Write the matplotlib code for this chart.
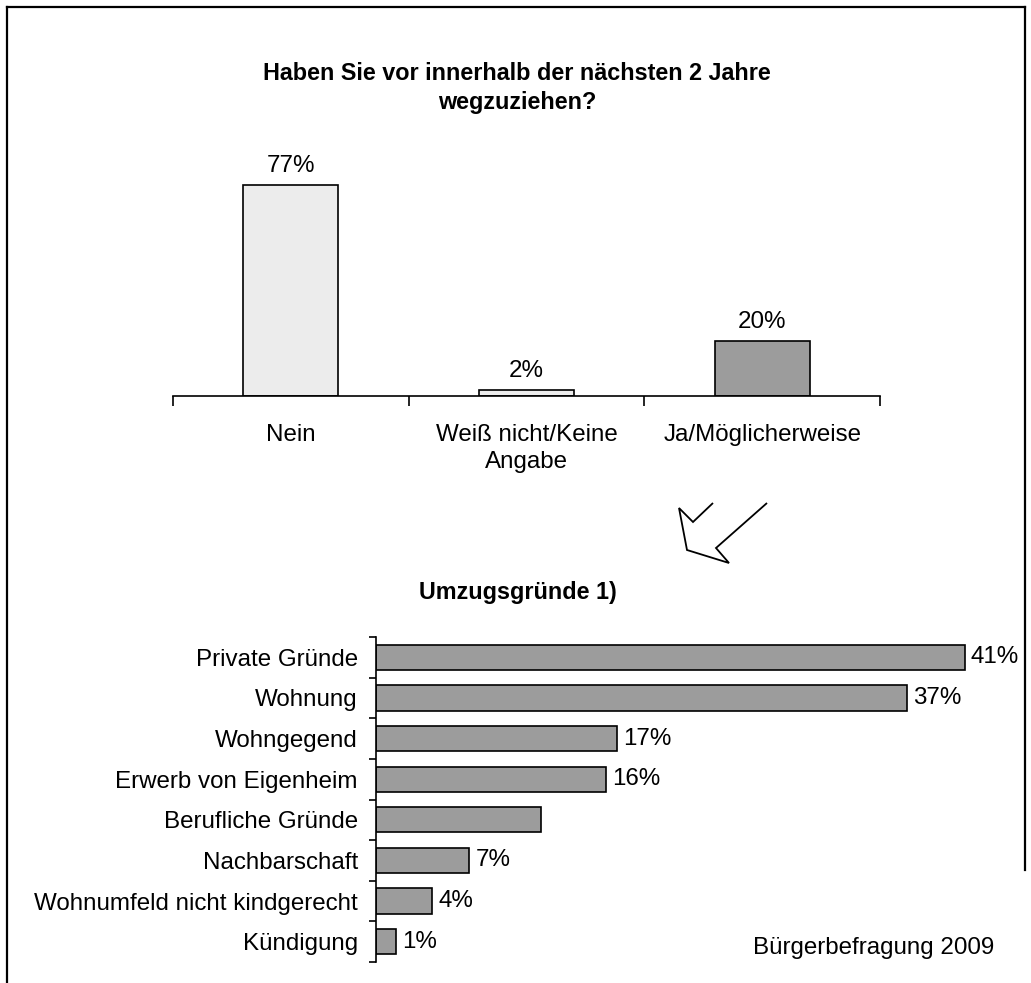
import numpy as np
import matplotlib
matplotlib.use("Agg")
import matplotlib.pyplot as plt
from matplotlib.patches import Polygon

plt.rcParams['font.family'] = ['Liberation Sans', 'DejaVu Sans']

# Frage: wegziehen in den naechsten 2 Jahren
antworten = ["Nein", "Weiß nicht/Keine\nAngabe", "Ja/Möglicherweise"]
anteile = [77, 2.2, 20]
anteil_labels = ["77%", "2%", "20%"]
farben_oben = ["#ececec", "#ececec", "#9c9c9c"]

# Umzugsgruende
gruende = ["Private Gründe", "Wohnung", "Wohngegend", "Erwerb von Eigenheim",
           "Berufliche Gründe", "Nachbarschaft", "Wohnumfeld nicht kindgerecht",
           "Kündigung"]
gruende_werte = [41, 37, 16.8, 16, 11.5, 6.5, 3.9, 1.4]
gruende_labels = ["41%", "37%", "17%", "16%", "", "7%", "4%", "1%"]

W, H = 1031, 983
FS = 17.4


def box(x0, y0, x1, y1):
    # pixel box (von oben gemessen) -> fig-Koordinaten
    return [x0 / W, 1 - y1 / H, (x1 - x0) / W, (y1 - y0) / H]


fig = plt.figure(figsize=(W / 100, H / 100), dpi=100)

# Rahmen und Pfeil
bg = fig.add_axes([0, 0, 1, 1])
bg.set_xlim(0, W)
bg.set_ylim(H, 0)
bg.axis("off")
bg.plot([7, 7], [H + 5, 7], color="black", lw=1.6)
bg.plot([7, 1025], [7, 7], color="black", lw=1.6)
bg.plot([1025, 1025], [7, 870], color="black", lw=1.6)
pfeil = [(713, 503), (693, 522), (679, 508), (687, 550), (729, 563), (716, 548), (767, 503)]
bg.add_patch(Polygon(pfeil, closed=False, facecolor="white", edgecolor="black", lw=1.3))

# oberes Diagramm
ax1 = fig.add_axes(box(173, 396 - 233, 880, 396))
x = np.arange(len(antworten))
bars = ax1.bar(x, anteile, width=0.403, color=farben_oben, edgecolor="black", linewidth=1.2)
for b, lab in zip(bars, anteil_labels):
    ax1.annotate(lab, (b.get_x() + b.get_width() / 2, b.get_height()),
                 xytext=(0, 6), textcoords="offset points",
                 ha="center", va="bottom", fontsize=FS)
ax1.set_xlim(-0.5, 2.5)
ax1.set_ylim(0, 85)
for s in ["top", "right", "left"]:
    ax1.spines[s].set_visible(False)
ax1.spines["bottom"].set_linewidth(1.2)
ax1.set_yticks([])
ax1.set_xticks(np.arange(-0.5, 3, 1))
ax1.set_xticklabels([])
ax1.tick_params(axis="x", which="major", length=7, width=1.2, direction="out")
ax1.set_xticks(x, minor=True)
ax1.set_xticklabels(antworten, minor=True, fontsize=FS)
for t in ax1.get_xticklabels(minor=True):
    t.set_linespacing(1.3)
ax1.tick_params(axis="x", which="minor", length=0, pad=20)

fig.text(517 / W, 1 - 88 / H, "Haben Sie vor innerhalb der nächsten 2 Jahre\nwegzuziehen?",
         ha="center", va="center", fontsize=16.8, fontweight="bold", linespacing=1.32)

# unteres Diagramm
ax2 = fig.add_axes(box(376, 637, 376 + 646, 962))
y = np.arange(len(gruende))
bars2 = ax2.barh(y, gruende_werte, height=0.62, color="#9c9c9c", edgecolor="black", linewidth=1.2)
for b, lab in zip(bars2, gruende_labels):
    if lab:
        ax2.annotate(lab, (b.get_width(), b.get_y() + b.get_height() / 2),
                     xytext=(4.5, 0), textcoords="offset points",
                     ha="left", va="center", fontsize=FS)
ax2.set_ylim(7.5, -0.5)
ax2.set_xlim(0, 45)
for s in ["top", "right", "bottom"]:
    ax2.spines[s].set_visible(False)
ax2.spines["left"].set_linewidth(1.2)
ax2.set_xticks([])
ax2.set_yticks(np.arange(-0.5, 8, 1))
ax2.set_yticklabels([])
ax2.tick_params(axis="y", which="major", length=5, width=1.2, direction="out")
ax2.set_yticks(y, minor=True)
ax2.set_yticklabels(gruende, minor=True, fontsize=FS)
ax2.tick_params(axis="y", which="minor", length=0, pad=13)

fig.text(518 / W, 1 - 593 / H, "Umzugsgründe 1)", ha="center", va="center",
         fontsize=16.8, fontweight="bold")
fig.text(994 / W, 1 - 948 / H, "Bürgerbefragung 2009", ha="right", va="center", fontsize=FS)

fig.savefig("out.png", dpi=100)
